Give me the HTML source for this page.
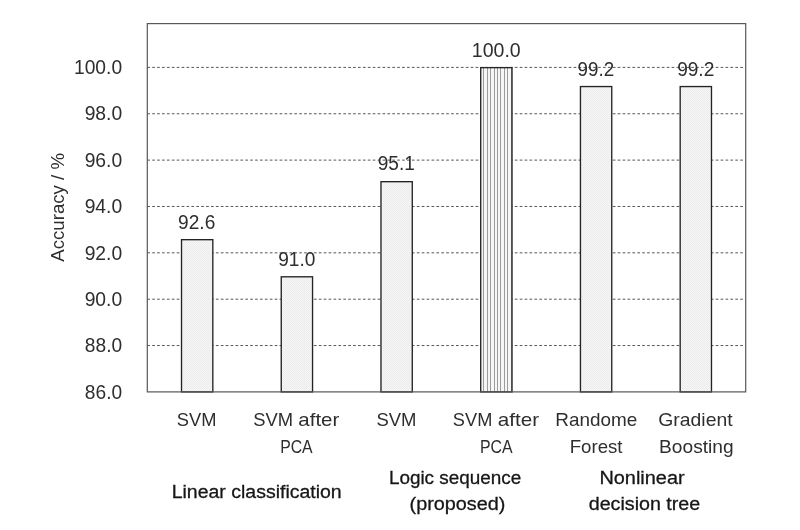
<!DOCTYPE html>
<html lang="en"><head><meta charset="utf-8"><title>Accuracy chart</title>
<style>html,body{margin:0;padding:0;background:#fff;overflow:hidden}svg{display:block;will-change:transform;opacity:.999}text{font-family:"Liberation Sans",Arial,sans-serif;font-size:19.0px;fill:#2e2e2e}.d{font-size:19.5px}.g{font-size:19.2px;fill:#161616;stroke:#161616;stroke-width:.3px}</style></head><body>
<svg width="800" height="530" viewBox="0 0 800 530">
<defs>
<pattern id="dots" width="2" height="2" patternUnits="userSpaceOnUse"><rect width="2" height="2" fill="#f5f5f5"/><rect width="1" height="1" fill="#ededed"/><rect x="1" y="1" width="1" height="1" fill="#ededed"/></pattern>
<pattern id="vert" x="484.2" width="3.37" height="8" patternUnits="userSpaceOnUse"><rect width="3.37" height="8" fill="#f6f6f6"/><rect x="0" width="1.05" height="8" fill="#9a9a9a"/></pattern>
</defs>
<rect width="800" height="530" fill="#fff"/>
<line x1="147.3" x2="745.7" y1="345.54" y2="345.54" stroke="#3a3a3a" stroke-width="0.85" stroke-dasharray="2.7 2.2"/>
<line x1="147.3" x2="745.7" y1="299.19" y2="299.19" stroke="#3a3a3a" stroke-width="0.85" stroke-dasharray="2.7 2.2"/>
<line x1="147.3" x2="745.7" y1="252.83" y2="252.83" stroke="#3a3a3a" stroke-width="0.85" stroke-dasharray="2.7 2.2"/>
<line x1="147.3" x2="745.7" y1="206.47" y2="206.47" stroke="#3a3a3a" stroke-width="0.85" stroke-dasharray="2.7 2.2"/>
<line x1="147.3" x2="745.7" y1="160.11" y2="160.11" stroke="#3a3a3a" stroke-width="0.85" stroke-dasharray="2.7 2.2"/>
<line x1="147.3" x2="745.7" y1="113.76" y2="113.76" stroke="#3a3a3a" stroke-width="0.85" stroke-dasharray="2.7 2.2"/>
<line x1="147.3" x2="745.7" y1="67.40" y2="67.40" stroke="#3a3a3a" stroke-width="0.85" stroke-dasharray="2.7 2.2"/>
<rect x="181.52" y="239.68" width="31.30" height="152.22" fill="url(#dots)" stroke="#242424" stroke-width="1.35"/>
<rect x="281.25" y="276.80" width="31.30" height="115.10" fill="url(#dots)" stroke="#242424" stroke-width="1.35"/>
<rect x="380.98" y="181.68" width="31.30" height="210.22" fill="url(#dots)" stroke="#242424" stroke-width="1.35"/>
<rect x="480.72" y="67.65" width="31.30" height="324.25" fill="#f6f6f6"/>
<path d="M483.96 67.65V391.90M487.35 67.65V391.90M490.74 67.65V391.90M494.13 67.65V391.90M497.52 67.65V391.90M500.91 67.65V391.90M504.30 67.65V391.90M507.69 67.65V391.90M511.08 67.65V391.90" stroke="#9c9c9c" stroke-width="1" fill="none" shape-rendering="crispEdges"/>
<rect x="480.72" y="67.65" width="31.30" height="324.25" fill="none" stroke="#242424" stroke-width="1.35"/>
<rect x="580.45" y="86.56" width="31.30" height="305.34" fill="url(#dots)" stroke="#242424" stroke-width="1.35"/>
<rect x="680.18" y="86.56" width="31.30" height="305.34" fill="url(#dots)" stroke="#242424" stroke-width="1.35"/>
<rect x="147.3" y="23.6" width="598.4" height="368.3" fill="none" stroke="#585858" stroke-width="1.2"/>
<text transform="translate(64.1 261.72) rotate(-90)" textLength="108.72" lengthAdjust="spacingAndGlyphs">Accuracy / %</text>
<text class="d" x="178.09" y="228.80" textLength="37.19" lengthAdjust="spacingAndGlyphs">92.6</text>
<text class="d" x="278.21" y="265.70" textLength="37.18" lengthAdjust="spacingAndGlyphs">91.0</text>
<text class="d" x="377.74" y="170.40" textLength="37.11" lengthAdjust="spacingAndGlyphs">95.1</text>
<text class="d" x="471.87" y="57.40" textLength="48.86" lengthAdjust="spacingAndGlyphs">100.0</text>
<text class="d" x="577.61" y="75.80" textLength="36.60" lengthAdjust="spacingAndGlyphs">99.2</text>
<text class="d" x="677.13" y="75.70" textLength="37.17" lengthAdjust="spacingAndGlyphs">99.2</text>
<text x="176.87" y="426.00" textLength="39.65" lengthAdjust="spacingAndGlyphs">SVM</text>
<text x="253.16" y="426.00" textLength="39.84" lengthAdjust="spacingAndGlyphs">SVM</text>
<text x="298.39" y="426.00" textLength="40.95" lengthAdjust="spacingAndGlyphs">after</text>
<text x="280.19" y="452.50" textLength="32.46" lengthAdjust="spacingAndGlyphs">PCA</text>
<text x="376.40" y="426.00" textLength="40.05" lengthAdjust="spacingAndGlyphs">SVM</text>
<text x="452.85" y="426.00" textLength="39.47" lengthAdjust="spacingAndGlyphs">SVM</text>
<text x="497.85" y="426.00" textLength="41.34" lengthAdjust="spacingAndGlyphs">after</text>
<text x="479.89" y="452.50" textLength="32.60" lengthAdjust="spacingAndGlyphs">PCA</text>
<text x="555.30" y="426.00" textLength="82.02" lengthAdjust="spacingAndGlyphs">Randome</text>
<text x="569.71" y="452.50" textLength="52.85" lengthAdjust="spacingAndGlyphs">Forest</text>
<text x="658.32" y="426.00" textLength="74.22" lengthAdjust="spacingAndGlyphs">Gradient</text>
<text x="659.09" y="452.50" textLength="74.49" lengthAdjust="spacingAndGlyphs">Boosting</text>
<text class="g" x="171.67" y="498.25" textLength="170.06" lengthAdjust="spacingAndGlyphs">Linear classification</text>
<text class="g" x="388.88" y="483.75" textLength="132.45" lengthAdjust="spacingAndGlyphs">Logic sequence</text>
<text class="g" x="409.56" y="509.50" textLength="95.86" lengthAdjust="spacingAndGlyphs">(proposed)</text>
<text class="g" x="599.43" y="483.75" textLength="85.18" lengthAdjust="spacingAndGlyphs">Nonlinear</text>
<text class="g" x="588.73" y="509.50" textLength="111.51" lengthAdjust="spacingAndGlyphs">decision tree</text>
<text class="d" x="84.86" y="398.60" textLength="37.30" lengthAdjust="spacingAndGlyphs">86.0</text>
<text class="d" x="84.86" y="352.24" textLength="37.30" lengthAdjust="spacingAndGlyphs">88.0</text>
<text class="d" x="84.63" y="305.89" textLength="37.53" lengthAdjust="spacingAndGlyphs">90.0</text>
<text class="d" x="84.63" y="259.53" textLength="37.53" lengthAdjust="spacingAndGlyphs">92.0</text>
<text class="d" x="84.63" y="213.17" textLength="37.53" lengthAdjust="spacingAndGlyphs">94.0</text>
<text class="d" x="84.63" y="166.81" textLength="37.53" lengthAdjust="spacingAndGlyphs">96.0</text>
<text class="d" x="84.63" y="120.46" textLength="37.53" lengthAdjust="spacingAndGlyphs">98.0</text>
<text class="d" x="73.97" y="74.10" textLength="48.11" lengthAdjust="spacingAndGlyphs">100.0</text>
</svg></body></html>
